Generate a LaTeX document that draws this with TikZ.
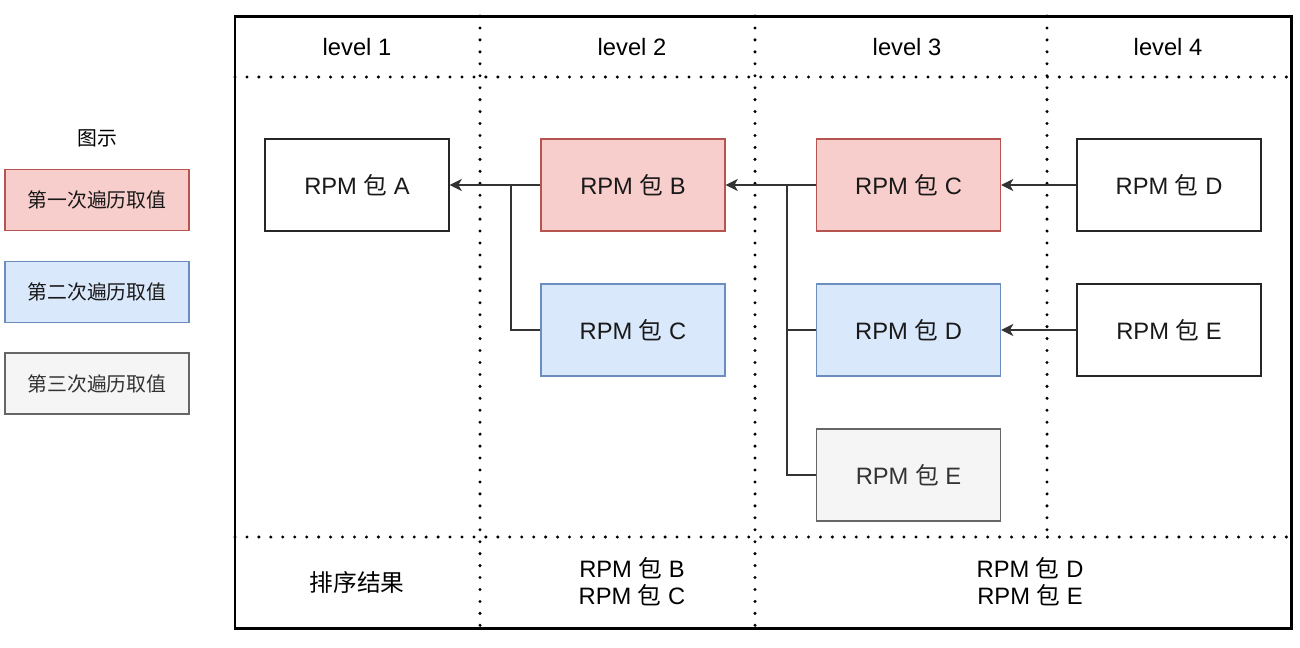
\documentclass[tikz,border=0pt]{standalone}
\usepackage{fontspec}
\setmainfont{Liberation Sans}
\newfontfamily\cjk{Noto Sans CJK SC}
\usetikzlibrary{arrows.meta}
\definecolor{firstfill}{HTML}{F8CECC}
\definecolor{firstline}{HTML}{B85450}
\definecolor{secondfill}{HTML}{DAE8FC}
\definecolor{secondline}{HTML}{6C8EBF}
\definecolor{thirdfill}{HTML}{F5F5F5}
\definecolor{thirdline}{HTML}{666666}
\definecolor{thirdtext}{HTML}{333333}
\newcommand{\bao}{{\cjk 包}}

\begin{document}
\begin{tikzpicture}[x=0.02cm, y=-0.02cm, font=\fontsize{13.5}{16.5}\selectfont,
  pkgbox/.style={draw=black!85, line width=0.7pt, text=black!90,
    minimum width=3.68cm, minimum height=1.84cm, inner sep=0pt},
  firstbox/.style={pkgbox, fill=firstfill, draw=firstline},
  secondbox/.style={pkgbox, fill=secondfill, draw=secondline},
  thirdbox/.style={pkgbox, fill=thirdfill, draw=thirdline, text=thirdtext},
  keybox/.style={minimum height=1.22cm, font=\fontsize{11.3}{14}\selectfont},
  lane/.style={line width=1.9pt, line cap=round, dash pattern=on 0pt off 6.8pt},
  link/.style={draw=black!80, line width=0.7pt},
  arr/.style={link, -{Stealth[length=7pt, width=7pt, inset=2pt]}}]
  \useasboundingbox (0,0) rectangle (1300,647);

  % legend
  \node[font=\fontsize{11.3}{14}\selectfont] (keytitle) at (97,138) {\cjk 图示};
  \node[firstbox, keybox] (key1) at (97,200) {\cjk 第一次遍历取值};
  \node[secondbox, keybox] (key2) at (97,292) {\cjk 第二次遍历取值};
  \node[thirdbox, keybox] (key3) at (97,383.5) {\cjk 第三次遍历取值};

  % frame and lanes
  \draw[line width=1.7pt] (235,16) rectangle (1291,628);
  \draw[lane] (235,77) -- (1291,77);
  \draw[lane] (235,537) -- (1291,537);
  \draw[lane] (480,16) -- (480,628);
  \draw[lane] (755,16) -- (755,628);
  \draw[lane] (1047,16) -- (1047,537);

  \node (lv1) at (357,47) {level 1};
  \node (lv2) at (632,47) {level 2};
  \node (lv3) at (907,47) {level 3};
  \node (lv4) at (1168,47) {level 4};

  % packages
  \node[pkgbox] (pkgA) at (357,185) {RPM \bao{} A};
  \node[firstbox] (pkgB) at (633,185) {RPM \bao{} B};
  \node[secondbox] (pkgC2) at (633,330) {RPM \bao{} C};
  \node[firstbox] (pkgC1) at (908.5,185) {RPM \bao{} C};
  \node[secondbox] (pkgD2) at (908.5,330) {RPM \bao{} D};
  \node[thirdbox] (pkgE2) at (908.5,475) {RPM \bao{} E};
  \node[pkgbox] (pkgD1) at (1169,185) {RPM \bao{} D};
  \node[pkgbox] (pkgE1) at (1169,330) {RPM \bao{} E};

  % dependencies
  \coordinate (jB) at (511,185);
  \coordinate (jC) at (787,185);
  \draw[arr] (pkgB.west) -- (pkgA.east);
  \draw[link] (pkgC2.west) -| (jB);
  \draw[arr] (pkgC1.west) -- (pkgB.east);
  \draw[link] (pkgD2.west) -| (jC);
  \draw[link] (pkgE2.west) -| (jC);
  \draw[arr] (pkgD1.west) -- (pkgC1.east);
  \draw[arr] (pkgE1.west) -- (pkgD2.east);

  % result row
  \node (res) at (357,582) {\cjk 排序结果};
  \node[align=center] (res2) at (632,582) {RPM \bao{} B\\[-1pt]RPM \bao{} C};
  \node[align=center] (res3) at (1030,582) {RPM \bao{} D\\[-1pt]RPM \bao{} E};
\end{tikzpicture}
\end{document}
